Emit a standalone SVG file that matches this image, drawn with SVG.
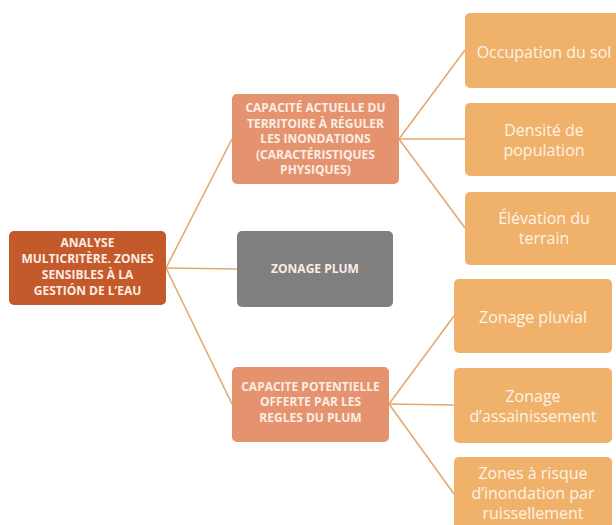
<svg xmlns="http://www.w3.org/2000/svg" width="616" height="525" viewBox="0 0 616 525">
<style>
.root{fill:#C4592C}
.mid{fill:#E5936F}
.grey{fill:#7F7F7F}
.leaf{fill:#F0B26B}
.tb{font-family:"Open Sans",Lato,sans-serif;font-weight:bold;font-size:12px;fill:#FBEDE4;text-anchor:middle}
.tl{font-family:"Open Sans",Lato,sans-serif;font-size:16px;fill:#FDF3E6;text-anchor:middle}
.c{stroke:#E2AA6E;stroke-width:1.6;fill:none}
</style>
<rect width="616" height="525" fill="#FFFFFF"/>
<g id="connectors">
<path class="c" d="M166,268 L232,139"/>
<path class="c" d="M166,268 L237,269"/>
<path class="c" d="M166,268 L232,404"/>
<path class="c" d="M399,139 L465,50"/>
<path class="c" d="M399,139 L465,139"/>
<path class="c" d="M399,139 L465,228"/>
<path class="c" d="M389,404 L454,316"/>
<path class="c" d="M389,404 L454,405"/>
<path class="c" d="M389,404 L454,494"/>
</g>
<g id="root">
<rect class="root" x="9" y="231" width="157" height="74" rx="5"/>
<text class="tb" x="87.5" y="247">ANALYSE</text>
<text class="tb" x="87.5" y="263">MULTICRITÈRE. ZONES</text>
<text class="tb" x="87.5" y="279">SENSIBLES À LA</text>
<text class="tb" x="87.5" y="295">GESTIÓN DE L’EAU</text>
</g>
<g id="capacite-actuelle">
<rect class="mid" x="232" y="94" width="167" height="90" rx="5"/>
<text class="tb" x="315.5" y="112">CAPACITÉ ACTUELLE DU</text>
<text class="tb" x="315.5" y="127.5">TERRITOIRE À RÉGULER</text>
<text class="tb" x="315.5" y="143">LES INONDATIONS</text>
<text class="tb" x="315.5" y="158.5">(CARACTÉRISTIQUES</text>
<text class="tb" x="315.5" y="174">PHYSIQUES)</text>
</g>
<g id="zonage-plum">
<rect class="grey" x="237" y="231" width="156" height="76" rx="5"/>
<text class="tb" x="315" y="272.5">ZONAGE PLUM</text>
</g>
<g id="capacite-potentielle">
<rect class="mid" x="232" y="367" width="157" height="75" rx="5"/>
<text class="tb" x="310.5" y="390.5">CAPACITE POTENTIELLE</text>
<text class="tb" x="310.5" y="406">OFFERTE PAR LES</text>
<text class="tb" x="310.5" y="421.5">REGLES DU PLUM</text>
</g>
<g id="occupation">
<rect class="leaf" x="465" y="13" width="156" height="75" rx="5"/>
<text class="tl" x="544" y="57.5">Occupation du sol</text>
</g>
<g id="densite">
<rect class="leaf" x="465" y="103" width="156" height="73" rx="5"/>
<text class="tl" x="544" y="135.5">Densité de</text>
<text class="tl" x="544" y="155.5">population</text>
</g>
<g id="elevation">
<rect class="leaf" x="465" y="192" width="156" height="73" rx="5"/>
<text class="tl" x="544" y="223.5">Élévation du</text>
<text class="tl" x="544" y="243.5">terrain</text>
</g>
<g id="zonage-pluvial">
<rect class="leaf" x="454" y="279" width="158" height="74" rx="5"/>
<text class="tl" x="533" y="322.5">Zonage pluvial</text>
</g>
<g id="zonage-assainissement">
<rect class="leaf" x="454" y="368" width="158" height="75" rx="5"/>
<text class="tl" x="533" y="401.5">Zonage</text>
<text class="tl" x="533" y="422">d’assainissement</text>
</g>
<g id="zones-risque">
<rect class="leaf" x="454" y="457" width="158" height="75" rx="5"/>
<text class="tl" x="533" y="478.5">Zones à risque</text>
<text class="tl" x="533" y="498.5">d’inondation par</text>
<text class="tl" x="533" y="518.5">ruissellement</text>
</g>
</svg>
